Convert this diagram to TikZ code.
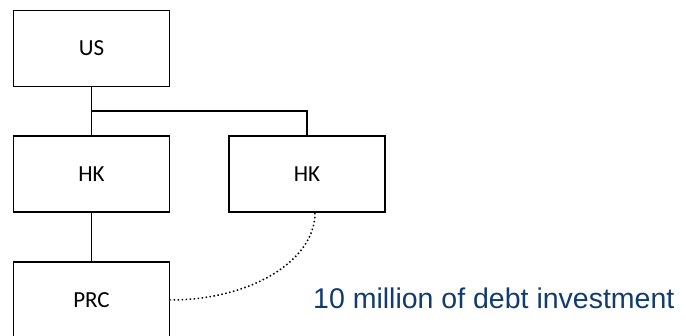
\documentclass[tikz,border=0pt]{standalone}
\usepackage{fontspec}
\setmainfont{Carlito}
\newfontfamily\arialfont{Liberation Sans}
\usetikzlibrary{calc}
\definecolor{notecolor}{HTML}{113C6E}
\begin{document}
\begin{tikzpicture}[x=1pt,y=1pt,
  entity/.style={draw=black, line width=1.8pt, fill=white, minimum width=156pt,
    minimum height=76pt, inner sep=0pt, font=\fontsize{23}{27}\selectfont},
  link/.style={draw=black, line width=1.8pt},
  loan/.style={draw=black, line width=1.5pt, dash pattern=on 1.5pt off 2.5pt}]
\useasboundingbox (0,0) rectangle (686,336);
% ownership chart
\node[entity] (us)  at (91.5,287.5) {US};
\node[entity] (hk1) at (91.5,162) {HK};
\node[entity] (hk2) at (307,162) {HK};
\node[entity] (prc) at (91.5,36) {PRC};
\coordinate (branch) at (91.5,225);
\draw[link] (us.south) -- (hk1.north);
\draw[link] (branch) -| (hk2.north);
\draw[link] (hk1.south) -- (prc.north);
% debt investment between the two subsidiaries
\coordinate (lender) at ($(hk2.south)+(8,0)$);
\draw[loan] (lender) .. controls ($(lender)+(0,-48)$) and ($(prc.east)+(80,0)$) .. (prc.east);
\node[anchor=base west, inner sep=0pt, text=notecolor,
  font=\arialfont\fontsize{28.5}{32}\selectfont] (note) at (313,27) {10 million of debt investment};
\end{tikzpicture}
\end{document}
